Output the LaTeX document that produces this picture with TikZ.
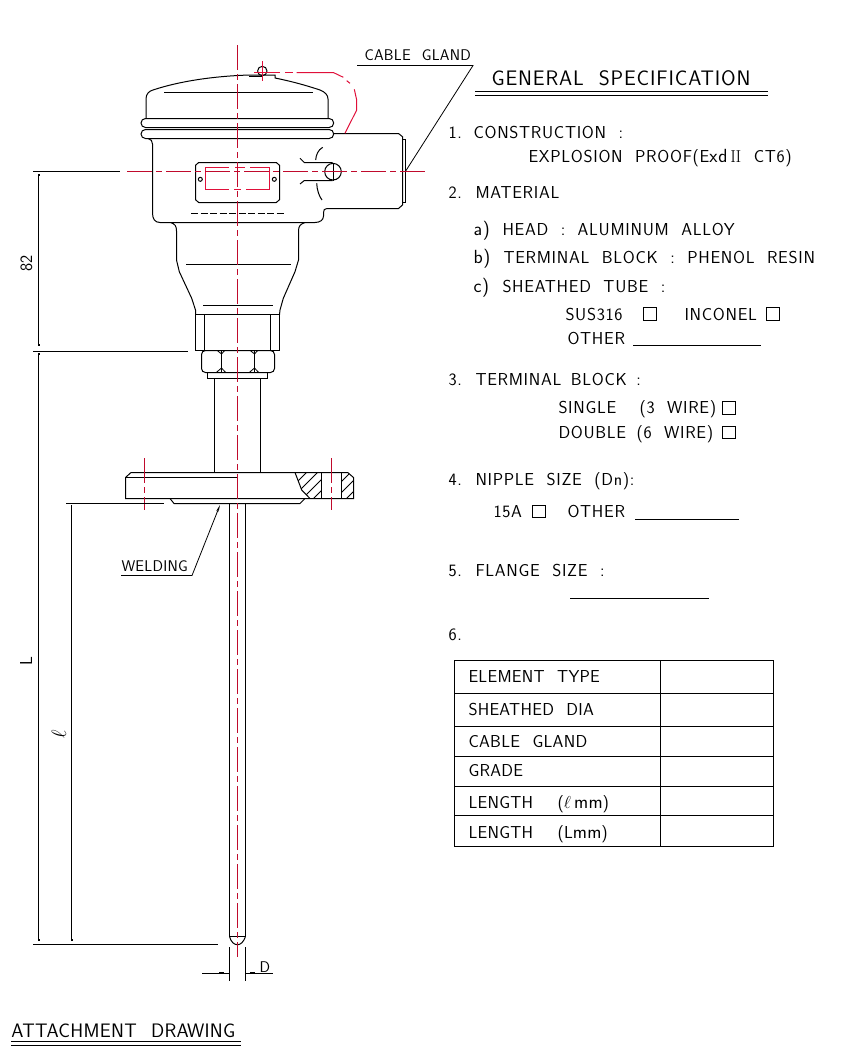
\documentclass[tikz,border=0pt]{standalone}
\usepackage{amsmath}
\usepackage{fontspec}
\usetikzlibrary{
  calc
  , arrows.meta
}
\newfontfamily\cadfont[LetterSpace=4]{Latin Modern Sans}
\newfontfamily\cadtight[LetterSpace=1.5]{Latin Modern Sans}
\definecolor{axisred}{HTML}{C00A2C}
\definecolor{wirered}{HTML}{E0103A}
\def\gap{\hspace{0.72em}}
\def\ltwo{{\rmfamily I\kern-0.5pt I}}
\def\lowcase#1{{\fontsize{19}{20}\selectfont #1}}
\begin{document}
\begin{tikzpicture}[x=1pt,y=-1pt,
    line width=1pt,
    axis/.style={draw=axisred,line width=1pt,dash pattern=on 25pt off 4pt on 6pt off 4pt},
    wire/.style={draw=wirered,line width=1pt},
    thin line/.style={line width=0.8pt},
    tick/.style={line width=2pt},
    spec/.style={anchor=base west,inner sep=0pt,font=\cadfont\fontsize{17.3}{18}\selectfont},
    cell/.style={anchor=base west,inner sep=0pt,font=\cadtight\fontsize{17.3}{18}\selectfont},
    small/.style={anchor=base west,inner sep=0pt,font=\cadtight\fontsize{15.5}{16}\selectfont},
    big/.style={anchor=base west,inner sep=0pt,font=\cadfont\fontsize{21}{22}\selectfont},
    rotated/.style={anchor=base,inner sep=0pt,rotate=90,font=\sffamily\fontsize{17.3}{18}\selectfont},
  ]
  \useasboundingbox (0,0) rectangle (856,1052);

  % head
  \draw (146,118) -- (146,99) .. controls (146,94) and (149,91) .. (153,90)
    .. controls (180,81) and (215,76) .. (250,75) -- (275,75) -- (275,78)
    .. controls (290,81) and (305,85) .. (320,90)
    .. controls (325,92) and (328,95) .. (328,99) -- (328,118);
  \draw [line width=1.4pt] (249,76.5) -- (262,76.5);
  \draw (262.3,71) circle (4.7);
  \draw (164,92.5) -- (312.7,92.5);
  \draw [rounded corners=4.5pt] (141,118.5) rectangle (333.7,127.5);
  \draw [rounded corners=4.5pt] (141,129.5) rectangle (333.7,138.5);
  \draw (148,138.5) .. controls (151,139) and (152.5,141) .. (152.5,144)
    -- (152.5,213) .. controls (152.5,219) and (155,222.5) .. (160,222.5)
    -- (315,222.5) .. controls (320,222.5) and (323.5,220) .. (323.5,216)
    -- (323.5,212.5) .. controls (323.5,210) and (324.5,208.5) .. (327,208.5)
    -- (398.5,208.5) -- (402.5,205) -- (402.5,136.7) -- (398.5,133.5) -- (333.7,133.5);
  \draw (402.5,139.5) rectangle (405.5,202.5);

  % name plate
  \draw (198.7,162.5) -- (276.3,162.5) -- (279.5,165.3) -- (279.5,199.7) -- (276.3,202.5)
    -- (198.7,202.5) -- (195.5,199.7) -- (195.5,165.3) -- cycle;
  \draw [wire] (228.5,167.5) -- (205.5,167.5) -- (205.5,189.5) -- (229,189.5);
  \draw [wire] (250,167.5) -- (269.5,167.5) -- (269.5,189.5) -- (246,189.5);
  \draw [wire] (235,167.5) -- (245,167.5);
  \draw [wire] (234,189.5) -- (241,189.5);
  \draw (200.3,179.3) circle (2);
  \draw (274.3,179.3) circle (2);
  \draw [dash pattern=on 7pt off 2.5pt] (191,213.5) -- (284,213.5);

  % cable entry
  \draw (300,158.3) -- (304.3,162.5) -- (332.7,162.5);
  \draw (300,184) -- (304.3,180.5) -- (332.7,180.5);
  \draw (333,171.7) circle (8.3);
  \draw (333.5,163) -- (333.5,180.5);
  \draw (325,171.5) -- (341,171.5);
  \draw (322.7,147.3) .. controls (318,150) and (316,155) .. (315.7,160);
  \draw (316.7,183.3) .. controls (317,190) and (319,196) .. (322,200);

  % neck
  \draw (170.7,222.5) .. controls (175,224) and (176.5,226) .. (176.5,231) -- (176.5,260) -- (179.3,271.7)
    -- (191.7,298.3) -- (195.5,310) -- (195.5,314.5);
  \draw (305,222.5) .. controls (300.5,224) and (298.5,226) .. (298.5,231) -- (298.5,260) -- (295,271.7)
    -- (283.3,298.3) -- (280,310) -- (279.5,314.5);
  \draw (186,264.5) -- (291,264.5);
  \draw (203.3,305.5) -- (273,305.5);

  % nipple and nut
  \draw (195.5,314.5) rectangle (279.5,350.5);
  \draw (204.5,314.5) -- (204.5,350.5);
  \draw (270.5,314.5) -- (270.5,350.5);
  \draw [rounded corners=4pt] (201.5,350.5) rectangle (274.5,372.5);
  \draw (221.5,350.5) -- (221.5,372.5);
  \draw (254.5,350.5) -- (254.5,372.5);
  \foreach \nx in {221.5,254.5} {
    \draw [thin line] (\nx-4,350.7) -- (\nx,354) -- (\nx+3,350.7);
    \draw [thin line] (\nx-5,372.3) -- (\nx,368) -- (\nx+4,372.3);
  }
  \draw (207.5,372.5) rectangle (267.5,378.5);
  \draw (214.5,378.5) -- (214.5,472.5);
  \draw (260.5,378.5) -- (260.5,472.5);

  % flange
  \draw (125.5,477.5) -- (131,472.5) -- (347.7,472.5) -- (353.5,477.5) -- (353.5,498.5)
    -- (125.5,498.5) -- cycle;
  \draw (125.5,477.5) -- (237.5,477.5);
  \draw (170,498.5) -- (174,503.5) -- (300,503.5) -- (305,498.5);
  \draw (321.5,472.5) -- (321.5,498.5);
  \draw (341.5,472.5) -- (341.5,498.5);
  \draw (295,472.5) -- (301.7,490) -- (310,498.5);
  \begin{scope}
    \clip (295,472.5) -- (301.7,490) -- (310,498.5) -- (321.5,498.5) -- (321.5,472.5) -- cycle
      (341.5,472.5) -- (347.7,472.5) -- (353.5,477.5) -- (353.5,498.5) -- (341.5,498.5) -- cycle;
    \foreach \hx in {258,269,...,350} {
      \draw [thin line] (\hx,510) -- (\hx+40,470);
    }
  \end{scope}

  % probe
  \draw (229.5,503.5) -- (229.5,936.5) -- (245.5,936.5) -- (245.5,503.5);
  \draw (229.5,936.5) .. controls (231,942) and (234,944.7) .. (237.5,944.7)
    .. controls (240.6,944.7) and (243.6,942) .. (245.5,936.5);
  \draw (229.5,947) -- (229.5,980.7);
  \draw (245.5,947) -- (245.5,980.7);

  % centre lines
  \draw [axis] (237.5,45) -- (237.5,957);
  \draw [axis] (127,171.5) -- (428,171.5);
  \draw [axis] (144.5,458.3) -- (144.5,510);
  \draw [axis] (331.5,458.3) -- (331.5,510);
  \draw [wire] (262.5,61) -- (262.5,81);
  \draw [wire] (254,72.5) -- (280,72.5);
  \draw [wire] (285,72.5) -- (292.7,72.5);
  \draw [wire] (296.7,72.5) -- (333.3,72.5) -- (343.3,77.3);
  \draw [wire] (346.7,80.7) -- (350,83.3);
  \draw [wire] (354.3,89.3) -- (356.7,100) -- (356.7,110) -- (345,133.3);

  % dimensions
  \coordinate (top82) at (33,171.5);
  \coordinate (mid82) at (33,351.5);
  \coordinate (endL) at (33,944.5);
  \draw (top82) -- (120,171.5);
  \draw (mid82) -- (188,351.5);
  \draw (endL) -- (218,944.5);
  \draw (38.5,174) -- (38.5,346);
  \draw (38.5,353) -- (38.5,941);
  \draw (66,503.5) -- (164,503.5);
  \draw (71.5,505) -- (71.5,941);
  \foreach \ty in {174,344,353,939} {
    \draw [tick] (38.5,\ty) -- (38.5,\ty+2);
  }
  \draw [tick] (71.5,941) -- (71.5,939);
  \draw (202,973.5) -- (229.5,973.5);
  \draw (245.5,973.5) -- (273,973.5);
  \draw [tick] (219,972.7) -- (224,972.7);
  \draw [tick] (250,972.7) -- (255,972.7);
  \node [rotated] (dim82) at (32,263) {82};
  \node [rotated] (dimL) at (32,661) {L};
  \node [rotated,font=\sffamily\fontsize{21}{21}\selectfont] (diml) at (66,734) {$\ell$};
  \node [small] (dimD) at (259,972) {D};

  % leaders
  \coordinate (glandL) at (357,65.5);
  \coordinate (glandR) at (473,65.5);
  \coordinate (glandE) at (405.7,171);
  \draw [thin line] (glandL) -- (glandR) -- (glandE);
  \node [small] (gland) at (364,60) {CABLE\gap GLAND};
  \coordinate (weldL) at (121,575.5);
  \coordinate (weldM) at (192,575.5);
  \coordinate (weldE) at (220,505);
  \draw [thin line,-{Stealth[length=7pt,width=2.5pt]}] (weldL) -- (weldM) -- (weldE);
  \node [small] (welding) at (121,571.7) {WELDING};

  % specification
  \node [big] (title) at (491,85) {GENERAL\gap SPECIFICATION};
  \draw [thin line] (475,91.5) -- (768,91.5);
  \draw [thin line] (475,95.5) -- (768,95.5);
  \node [spec] (n1) at (448,138) {1.};
  \node [spec] (constr) at (473,138) {CONSTRUCTION\gap :};
  \node [spec] (proof) at (528,162.7) {EXPLOSION\gap PROOF(E\lowcase{xd}\,\ltwo\gap CT6)};
  \node [spec] (n2) at (448,198) {2.};
  \node [spec] (material) at (475,198) {MATERIAL};
  \node [spec] (la) at (473,235) {\lowcase{a)}};
  \node [spec] (head) at (502,235) {HEAD\gap :\gap ALUMINUM\gap ALLOY};
  \node [spec] (lb) at (473,263) {\lowcase{b)}};
  \node [spec] (block) at (503,263) {TERMINAL\gap BLOCK\gap :\gap PHENOL\gap RESIN};
  \node [spec] (lc) at (473,292) {\lowcase{c)}};
  \node [spec] (tube) at (502,292) {SHEATHED\gap TUBE\gap :};
  \node [spec] (sus) at (565,320) {SUS316};
  \draw [thin line] (643.5,307.5) rectangle (656.5,320.5);
  \node [spec] (inconel) at (684,320) {INCONEL};
  \draw [thin line] (766.5,307.5) rectangle (779.5,320.5);
  \node [spec] (other1) at (567,344) {OTHER};
  \draw [thin line] (633,345.5) -- (761,345.5);
  \node [spec] (n3) at (448,385) {3.};
  \node [spec] (tblock) at (475,385) {TERMINAL\hspace{.55em}BLOCK\hspace{.55em}:};
  \node [spec] (single) at (558,413) {SINGLE};
  \node [spec] (wire3) at (639,413) {(3\gap WIRE)};
  \draw [thin line] (722.5,401.5) rectangle (735.5,414.5);
  \node [spec] (double) at (558,438) {DOUBLE};
  \node [spec] (wire6) at (636,438) {(6\gap WIRE)};
  \draw [thin line] (722.5,426.5) rectangle (735.5,438.5);
  \node [spec] (n4) at (448,485) {4.};
  \node [spec] (nipple) at (475,485) {NIPPLE\gap SIZE\gap (Dn):};
  \node [spec] (a15) at (493,517) {15A};
  \draw [thin line] (532.5,505.5) rectangle (545.5,517.5);
  \node [spec] (other2) at (567,517) {OTHER};
  \draw [thin line] (635,519.5) -- (739,519.5);
  \node [spec] (n5) at (448,576) {5.};
  \node [spec] (fsize) at (475,576) {FLANGE\gap SIZE\gap :};
  \draw [thin line] (570,598.5) -- (709,598.5);
  \node [spec] (n6) at (448,640) {6.};

  % table
  \draw [thin line] (454.5,660.5) rectangle (773.5,846.5);
  \draw [thin line] (660.5,660.5) -- (660.5,846.5);
  \foreach \ry in {693.5,726.5,756.5,786.5,815.5} {
    \draw [thin line] (454.5,\ry) -- (773.5,\ry);
  }
  \node [cell] (t1) at (468,682.3) {ELEMENT\gap TYPE};
  \node [cell] (t2) at (468,715) {SHEATHED\gap DIA};
  \node [cell] (t3) at (468,747) {CABLE\gap GLAND};
  \node [cell] (t4) at (468,776) {GRADE};
  \node [cell] (t5) at (468,808) {LENGTH};
  \node [cell] (t5u) at (557,808) {(\lowcase{$\ell$\,mm})};
  \node [cell] (t6) at (468,838) {LENGTH};
  \node [cell] (t6u) at (557,838) {(L\lowcase{mm})};

  % caption
  \node [anchor=base west,inner sep=0pt,font=\cadtight\fontsize{19.5}{20}\selectfont] (caption) at (11,1037) {ATTACHMENT\gap DRAWING};
  \draw [thin line] (11,1041.5) -- (241,1041.5);
  \draw [thin line] (11,1045.5) -- (241,1045.5);
\end{tikzpicture}
\end{document}
